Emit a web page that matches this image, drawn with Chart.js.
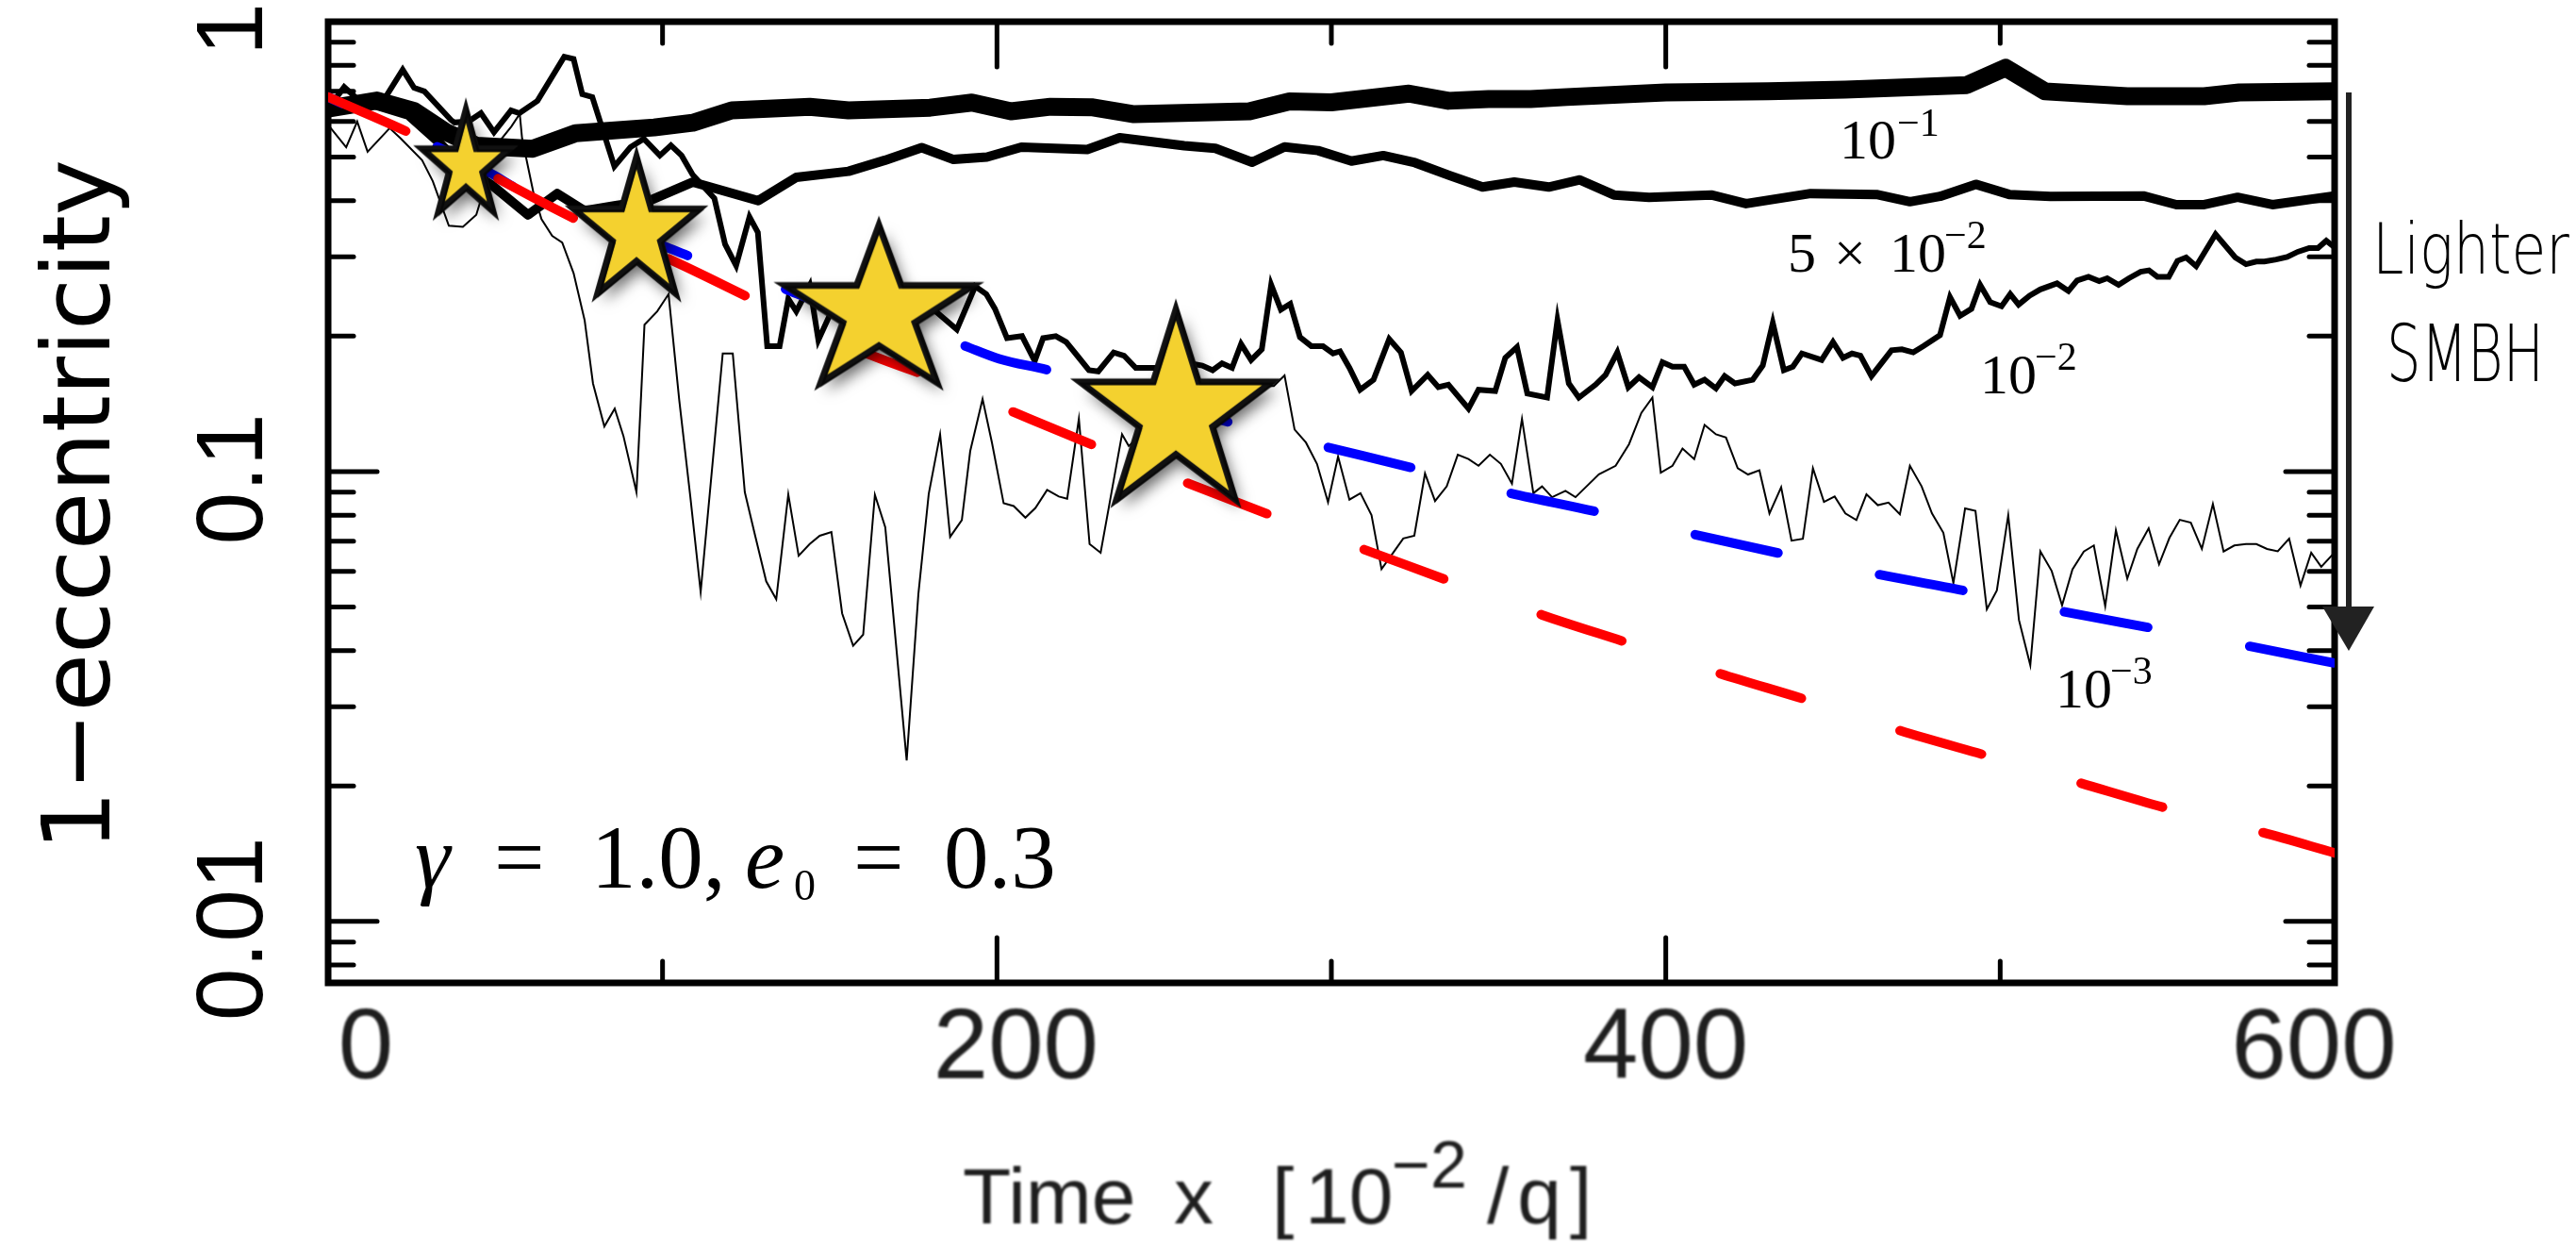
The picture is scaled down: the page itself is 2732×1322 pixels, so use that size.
<!DOCTYPE html>
<html>
<head>
<meta charset="utf-8">
<style>
  html, body { margin: 0; padding: 0; background: #fff; }
</style>
</head>
<body>
<canvas id="chart" width="2732" height="1322"></canvas>
<script src="https://cdn.jsdelivr.net/npm/chart.js@4.4.1/dist/chart.umd.min.js"></script>
<script>
// axis ticks
var xMajor = [0, 200, 400, 600];
var xMinor = [100, 300, 500];
var xLabels = ['0', '200', '400', '600'];
var yMajor = [1, 0.1, 0.01];
var yMinor = [0.9, 0.8, 0.7, 0.6, 0.5, 0.4, 0.3, 0.2,
              0.09, 0.08, 0.07, 0.06, 0.05, 0.04, 0.03, 0.02, 0.009, 0.008];
var yLabels = ['1', '0.1', '0.01'];

// runs, one per SMBH mass ratio  [time, 1-e]
var q1e1 = [[0,0.641],[14.6,0.668],[25.7,0.633],[35.3,0.568],[44.3,0.53],[61.2,0.522],[74,0.565],
  [97.5,0.582],[109,0.596],[120.7,0.635],[144,0.647],[155.6,0.635],[180,0.644],[192.5,0.661],
  [204.2,0.632],[216,0.647],[228.7,0.645],[241,0.623],[252.6,0.626],[275.5,0.632],[287.5,0.665],
  [300,0.662],[323.2,0.692],[335,0.667],[347,0.673],[359.6,0.673],[370.4,0.68],[400,0.696],
  [430.5,0.70],[453.6,0.706],[490,0.723],[501.6,0.79],[513.4,0.70],[538,0.683],[561,0.683],
  [571.5,0.696],[600,0.70]];

var q5e2 = [[0,0.645],[12,0.66],[24,0.62],[33,0.54],[41,0.47],[49,0.433],[59.8,0.372],[68.5,0.415],
  [76.7,0.38],[86,0.39],[96,0.40],[109,0.44],[128.6,0.40],[140,0.451],[155.6,0.465],[166.5,0.492],
  [177.5,0.525],[187,0.494],[197,0.50],[207.3,0.526],[227,0.52],[236.7,0.552],[256,0.53],
  [265.3,0.523],[276.3,0.487],[286,0.527],[296,0.517],[306,0.49],[315.5,0.504],[325,0.486],
  [335.4,0.455],[345.2,0.429],[354.7,0.44],[365,0.429],[374.3,0.445],[384.5,0.412],[395,0.407],
  [413.6,0.412],[424,0.394],[443.3,0.415],[463,0.413],[473,0.398],[482,0.409],[492.7,0.435],
  [502.7,0.413],[515,0.409],[542.8,0.41],[552.7,0.392],[561,0.392],[571,0.407],[581.4,0.392],
  [600,0.41]];

var q1e2 = [[0,0.64],[4.8,0.716],[10,0.66],[17.2,0.68],[22.3,0.782],[25.7,0.713],[28.8,0.70],
  [36.7,0.605],[37.8,0.597],[42,0.6],[45.7,0.626],[49.6,0.568],[54.7,0.635],[57.2,0.626],
  [62.6,0.667],[70.6,0.836],[73.4,0.826],[76,0.69],[79,0.68],[85.6,0.477],[90.4,0.526],
  [94.4,0.549],[99.2,0.504],[102.5,0.531],[105.7,0.504],[109,0.457],[115.5,0.405],[118.7,0.32],
  [122,0.287],[126,0.368],[128.5,0.34],[131.3,0.19],[135,0.19],[137.6,0.242],[140,0.227],
  [144,0.259],[146.6,0.196],[150.5,0.227],[160,0.22],[170,0.24],[180.5,0.231],[188,0.207],
  [193.5,0.258],[196.8,0.248],[199.4,0.23],[203,0.198],[207.5,0.2],[211.3,0.176],[213.8,0.198],
  [217.6,0.2],[220.7,0.194],[224,0.181],[227.5,0.168],[230.3,0.167],[234.9,0.184],[238,0.181],
  [241.5,0.17],[250,0.17],[256,0.175],[261.4,0.172],[264.5,0.168],[267.3,0.174],[270.3,0.17],
  [273,0.192],[276,0.177],[279.2,0.187],[282,0.26],[284.9,0.229],[287.7,0.236],[290.6,0.199],
  [294,0.19],[297.5,0.19],[300.5,0.183],[302.6,0.185],[305.4,0.17],[308.6,0.152],[312.6,0.16],
  [317.3,0.197],[320.8,0.184],[324,0.151],[328.8,0.164],[332,0.154],[335,0.156],[341,0.138],
  [344,0.152],[349,0.151],[352,0.179],[355.5,0.189],[358.6,0.149],[364.5,0.146],[367.6,0.217],
  [371,0.157],[374,0.146],[379,0.156],[382,0.164],[385.5,0.184],[388.8,0.154],[392,0.162],
  [396,0.154],[399,0.175],[402,0.171],[405.5,0.171],[408.5,0.156],[411.6,0.16],[415,0.153],
  [417.6,0.163],[420.7,0.157],[426,0.16],[429,0.172],[432,0.214],[435.3,0.168],[438,0.171],
  [440.7,0.183],[446.6,0.177],[450,0.194],[453,0.179],[455.7,0.183],[458.2,0.181],[461.5,0.163],
  [467.5,0.186],[470.6,0.187],[474,0.184],[477,0.19],[482,0.201],[485,0.244],[488,0.222],
  [491.4,0.23],[494,0.26],[497,0.238],[500.4,0.233],[503,0.248],[505.5,0.235],[508.8,0.246],
  [512,0.254],[517,0.262],[520.4,0.252],[523,0.266],[526.4,0.271],[529.6,0.265],[532,0.269],
  [535.4,0.26],[538.5,0.269],[542,0.278],[544.5,0.28],[547,0.271],[550.4,0.271],[553,0.294],
  [555.6,0.299],[558.6,0.286],[564.4,0.337],[570.3,0.299],[573.5,0.289],[576.6,0.293],[579,0.293],
  [582.5,0.296],[585.8,0.3],[589,0.308],[592.4,0.314],[595,0.314],[597.5,0.326],[600,0.315]];

var q1e3 = [[0,0.59],[5.4,0.526],[8.7,0.60],[11.8,0.514],[18.4,0.58],[21.7,0.55],[28.1,0.492],
  [31.3,0.442],[36.1,0.352],[40.3,0.35],[44.3,0.372],[50.8,0.537],[54.8,0.585],[57.3,0.624],
  [58,0.55],[61.3,0.42],[63.8,0.364],[67,0.334],[70,0.323],[73.4,0.276],[76.7,0.217],[79.2,0.157],
  [82.6,0.126],[85.7,0.138],[88.3,0.12],[92.2,0.09],[94.6,0.212],[98.4,0.227],[101.8,0.248],
  [105,0.144],[108.3,0.088],[111.4,0.054],[118,0.183],[121,0.183],[124.6,0.09],[127.7,0.072],
  [131,0.057],[134,0.052],[137.6,0.089],[140.7,0.065],[144,0.069],[147,0.072],[150.5,0.0734],
  [153.7,0.0484],[157,0.041],[160,0.0434],[163.5,0.0888],[166.6,0.0752],[173,0.0228],[176.5,0.0534],
  [179.6,0.0892],[183,0.121],[186,0.0716],[189.5,0.078],[192,0.111],[195.7,0.145],[198.5,0.116],
  [202,0.085],[205,0.0838],[208.5,0.079],[211.5,0.083],[215,0.091],[218.5,0.088],[221,0.087],
  [224.5,0.131],[227.7,0.069],[231,0.066],[237.4,0.121],[239.4,0.114],[246,0.125],[254,0.14],
  [262,0.12],[270,0.15],[275.5,0.155],[282.8,0.155],[286,0.1636],[289,0.124],[292.4,0.116],
  [295.7,0.104],[299,0.0855],[302,0.108],[305.4,0.0866],[308.7,0.0895],[312,0.080],[315,0.0607],
  [318.3,0.0657],[321.5,0.071],[324.8,0.072],[328,0.099],[331,0.086],[334.5,0.0927],[337.8,0.109],
  [341,0.1066],[344,0.103],[347.4,0.109],[350.7,0.104],[354,0.094],[357,0.131],[360.4,0.0895],
  [363,0.0927],[366,0.0877],[370,0.0906],[373,0.0877],[380,0.0986],[385,0.103],[389,0.115],
  [392.7,0.135],[396,0.146],[398.5,0.0994],[402,0.103],[405,0.1125],[408.5,0.1066],[411.6,0.127],
  [415,0.121],[418,0.119],[421.5,0.1017],[424.6,0.0985],[428,0.1006],[431,0.0807],[434.5,0.0923],
  [437.6,0.0702],[441,0.0709],[444,0.1017],[447.3,0.0856],[450.5,0.088],[453.7,0.0807],[457,0.078],
  [460,0.089],[463.4,0.0842],[466.6,0.0853],[470,0.0804],[473,0.103],[476.5,0.0927],[479.6,0.0807],
  [483,0.0731],[486,0.0565],[489.5,0.0828],[492.6,0.0818],[496,0.0494],[499,0.0544],[502.4,0.080],
  [505.6,0.0468],[509,0.0371],[512,0.0665],[515.4,0.0601],[518.5,0.0504],[521.6,0.0606],[525,0.0664],
  [528,0.0685],[531.4,0.0502],[534.6,0.074],[538,0.0578],[541,0.0673],[544.4,0.0748],[547.5,0.0622],
  [550.6,0.0712],[553.7,0.0781],[557,0.077],[560.3,0.0673],[563.6,0.0847],[566.8,0.0664],[570,0.0685],
  [573.5,0.069],[576.6,0.069],[579.8,0.0673],[583,0.0665],[586.4,0.0709],[589.8,0.0558],[593,0.066],
  [596,0.0614],[599.4,0.0654]];

// model curves
var fitRed = [[0,0.68],[26.8,0.555],[76.7,0.356],[101,0.299],[127.7,0.24],[158.8,0.186],[180,0.162],
  [205,0.1355],[231,0.1127],[257.7,0.0938],[283.4,0.0792],[310,0.067],[337,0.0565],[363,0.048],
  [390,0.0413],[416,0.0356],[443.8,0.0308],[469.7,0.0266],[497.4,0.0232],[524,0.0203],
  [551.5,0.0177],[578,0.0158],[600,0.0142]];
var fitBlue = [[0,0.68],[48.2,0.462],[56.7,0.425],[100,0.318],[108.6,0.30],[134,0.259],[148.6,0.235],
  [188,0.193],[200.7,0.178],[215.4,0.168],[265.6,0.131],[296.3,0.1145],[324,0.102],[351,0.0904],
  [379,0.0815],[406,0.0732],[433.6,0.0659],[461,0.0596],[489.5,0.0543],[516,0.0493],[544.4,0.045],
  [571.5,0.0413],[600,0.0375]];

// star markers
var starX = [41.2, 92.2, 164.7, 253.5];
var starY = [0.478, 0.3404, 0.226, 0.134];

function pts(arr) {
  return arr.map(function (p) { return { x: p[0], y: p[1] }; });
}

// star glyphs: outer radius and vertical stretch
var starR = [49, 70, 105, 107];
var starSy = [1.21, 1.14, 0.88, 1.04];

function makeStar(r, sy) {
  var pad = 30;
  var c = document.createElement('canvas');
  c.width = Math.ceil(2 * r + 2 * pad);
  c.height = Math.ceil(2 * r * sy + 2 * pad);
  var g = c.getContext('2d');
  var cx = c.width / 2, cy = c.height / 2;
  function path(dx, dy) {
    g.beginPath();
    for (var i = 0; i < 10; i++) {
      var a = -Math.PI / 2 + i * Math.PI / 5;
      var rr = i % 2 ? r * 0.382 : r;
      g.lineTo(cx + dx + rr * Math.cos(a), cy + dy + rr * Math.sin(a) * sy);
    }
    g.closePath();
  }
  path(0, 0);
  g.shadowColor = 'rgba(0,0,0,0.6)';
  g.shadowBlur = 16;
  g.shadowOffsetX = 6;
  g.shadowOffsetY = 9;
  g.fillStyle = '#f4d12f';
  g.fill();
  g.shadowColor = 'transparent';
  g.lineJoin = 'miter';
  g.strokeStyle = '#111';
  g.lineWidth = 7;
  g.stroke();
  path(2, 2);
  g.strokeStyle = 'rgba(0,0,0,0.55)';
  g.lineWidth = 2.5;
  g.stroke();
  return c;
}
var starImgs = starR.map(function (r, i) { return makeStar(r, starSy[i]); });

var framePlugin = {
  id: 'frame',
  beforeDatasetsDraw: function (chart) {
    var ctx = chart.ctx, a = chart.chartArea;
    var xs = chart.scales.x, ys = chart.scales.y;
    ctx.save();
    ctx.strokeStyle = '#000';
    ctx.lineWidth = 7;
    ctx.strokeRect(a.left, a.top, a.right - a.left, a.bottom - a.top);
    ctx.lineWidth = 5;
    ctx.lineCap = 'round';
    function tick(x1, y1, x2, y2) {
      ctx.beginPath(); ctx.moveTo(x1, y1); ctx.lineTo(x2, y2); ctx.stroke();
    }
    xMajor.forEach(function (v) {
      var px = xs.getPixelForValue(v);
      tick(px, a.bottom, px, a.bottom - 48);
      tick(px, a.top, px, a.top + 48);
    });
    xMinor.forEach(function (v) {
      var px = xs.getPixelForValue(v);
      tick(px, a.bottom, px, a.bottom - 23);
      tick(px, a.top, px, a.top + 23);
    });
    yMajor.forEach(function (v) {
      var py = ys.getPixelForValue(v);
      tick(a.left, py, a.left + 52, py);
      tick(a.right, py, a.right - 52, py);
    });
    yMinor.forEach(function (v) {
      var py = ys.getPixelForValue(v);
      tick(a.left, py, a.left + 27, py);
      tick(a.right, py, a.right - 27, py);
    });
    ctx.restore();
  }
};

var serif = '"Liberation Serif", "DejaVu Serif", serif';
var sans = '"Liberation Sans", Arial, sans-serif';

var textPlugin = {
  id: 'texts',
  afterDraw: function (chart) {
    var ctx = chart.ctx, a = chart.chartArea;
    var xs = chart.scales.x, ys = chart.scales.y;
    ctx.save();
    ctx.fillStyle = '#000';
    ctx.textBaseline = 'alphabetic';

    // y tick labels, rotated
    ctx.font = '100px ' + sans;
    ctx.textAlign = 'center';
    yMajor.forEach(function (v, i) {
      ctx.save();
      ctx.translate(a.left - 70, ys.getPixelForValue(v) + 8);
      ctx.rotate(-Math.PI / 2);
      ctx.fillText(yLabels[i], 0, 0);
      ctx.restore();
    });

    // y title
    ctx.save();
    ctx.font = '100px "DejaVu Sans", sans-serif';
    ctx.translate(116, (a.top + a.bottom) / 2 + 3);
    ctx.rotate(-Math.PI / 2);
    ctx.fillText('1\u2212eccentricity', 0, 0);
    ctx.restore();

    // x tick labels and title (soft, like the original)
    ctx.save();
    ctx.filter = 'blur(1px)';
    ctx.fillStyle = '#1e1e1e';
    ctx.font = '105px ' + sans;
    var nudge = [40, 20, 0, -22];
    xMajor.forEach(function (v, i) {
      ctx.fillText(xLabels[i], xs.getPixelForValue(v) + nudge[i], a.bottom + 101);
    });
    ctx.textAlign = 'left';
    var by = a.bottom + 255;
    ctx.font = '84px ' + sans;
    ctx.fillText('Time', a.left + 673, by);
    ctx.fillText('x', a.left + 897, by);
    ctx.fillText('[', a.left + 1001, by);
    ctx.fillText('10', a.left + 1036, by);
    ctx.letterSpacing = '9px';
    ctx.fillText('/q]', a.left + 1229, by);
    ctx.letterSpacing = '0px';
    ctx.font = '70px ' + sans;
    ctx.fillText('\u22122', a.left + 1128, by - 38);
    ctx.restore();

    // curve labels
    ctx.textAlign = 'left';
    function t(s, font, x, y) { ctx.font = font; ctx.fillText(s, x, y); }
    var big = '60px ' + serif, sup = '42px ' + serif;
    t('10', big, 1951, 168);
    t('\u22121', sup, 2012, 144);
    t('5', big, 1896, 288);
    t('\u00d7', big, 1945, 288);
    t('10', big, 2004, 288);
    t('\u22122', sup, 2062, 263);
    t('10', big, 2100, 417);
    t('\u22122', sup, 2158, 392);
    t('10', big, 2180, 750);
    t('\u22123', sup, 2238, 725);

    // parameters
    var m = '95px ' + serif, mi = 'italic 95px ' + serif;
    t('\u03b3', mi, 440, 941);
    t('=', m, 524, 941);
    t('1.0,', m, 627, 941);
    t('e', mi, 790, 941);
    t('0', '46px ' + serif, 842, 954);
    t('=', m, 905, 941);
    t('0.3', m, 1001, 941);

    // arrow and note
    ctx.strokeStyle = '#222';
    ctx.fillStyle = '#222';
    ctx.lineWidth = 6;
    ctx.beginPath();
    ctx.moveTo(2491, 98);
    ctx.lineTo(2491, 650);
    ctx.stroke();
    ctx.beginPath();
    ctx.moveTo(2463, 643);
    ctx.lineTo(2518, 643);
    ctx.lineTo(2491, 690);
    ctx.closePath();
    ctx.fill();

    ctx.fillStyle = '#000';
    function fit(s, font, x, y, w) {
      ctx.font = font;
      var k = w / ctx.measureText(s).width;
      ctx.save();
      ctx.translate(x, y);
      ctx.scale(k, 1);
      ctx.fillText(s, 0, 0);
      ctx.restore();
    }
    fit('Lighter', '300 74px "DejaVu Sans", sans-serif', 2516, 290, 209);
    fit('SMBH', '300 84px "DejaVu Sans", sans-serif', 2531, 404, 167);

    ctx.restore();
  }
};

function line(label, data, color, width, extra) {
  var ds = {
    label: label,
    data: pts(data),
    borderColor: color,
    borderWidth: width,
    borderCapStyle: 'round',
    borderJoinStyle: 'miter',
    pointRadius: 0,
    fill: false
  };
  for (var k in extra) ds[k] = extra[k];
  return ds;
}

var chart = new Chart(document.getElementById('chart'), {
  type: 'line',
  data: {
    datasets: [
      {
        label: 'stars',
        data: starX.map(function (x, i) { return { x: x, y: starY[i] }; }),
        showLine: false,
        pointStyle: starImgs,
        pointRadius: 10,
        clip: false
      },
      line('fit red', fitRed, '#ff0000', 10, { borderDash: [90, 110], cubicInterpolationMode: 'monotone' }),
      line('fit blue', fitBlue, '#0000ff', 10, { borderDash: [90, 110], borderDashOffset: 73, cubicInterpolationMode: 'monotone' }),
      line('10^-1', q1e1, '#000', 19, { borderJoinStyle: 'round' }),
      line('5x10^-2', q5e2, '#000', 10, { borderJoinStyle: 'round' }),
      line('10^-2', q1e2, '#000', 6, {}),
      line('10^-3', q1e3, '#000', 2, {})
    ]
  },
  options: {
    responsive: false,
    animation: false,
    devicePixelRatio: 1,
    events: [],
    layout: { padding: { left: 348, right: 256, top: 23, bottom: 280 } },
    plugins: { legend: { display: false }, tooltip: { enabled: false } },
    scales: {
      x: { type: 'linear', min: 0, max: 600, display: false },
      y: { type: 'logarithmic', min: 0.0073, max: 1, display: false }
    }
  },
  plugins: [framePlugin, textPlugin]
});
</script>
</body>
</html>
